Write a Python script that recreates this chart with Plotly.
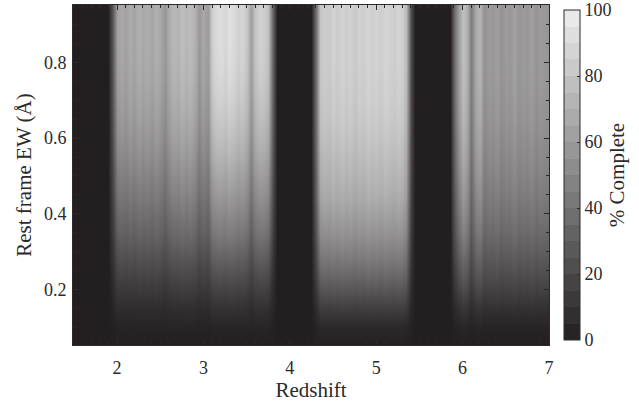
import numpy as np
import plotly.graph_objects as go

# Redshift bin centres (1.50 .. 7.00, step 0.05) and their high-EW completeness (%)
redshift = [round(1.5 + 0.05 * i, 2) for i in range(111)]
col_max = [
    0, 0, 0, 0, 0, 0, 0, 0, 0,            # 1.50-1.90
    30, 62, 66, 63, 68, 64, 70, 66, 69, 65,  # 1.95-2.40
    70, 66, 58, 68, 74, 72, 77, 73, 76, 70,  # 2.45-2.90
    58, 66, 60, 85, 90, 92, 88, 93, 90, 85,  # 2.95-3.40
    88, 80, 62, 80, 86, 84, 78, 30,          # 3.45-3.80
    0, 0, 0, 0, 0, 0, 0, 0, 0,               # 3.85-4.25
    40, 80, 84, 82, 86, 83, 87, 84, 86, 82,  # 4.30-4.75
    86, 84, 88, 85, 87, 84, 88, 86, 84, 87,  # 4.80-5.25
    85, 75, 20,                              # 5.30-5.40
    0, 0, 0, 0, 0, 0, 0, 0, 0,               # 5.45-5.85
    35, 58, 78, 70, 45, 68, 72, 55, 60, 58,  # 5.90-6.35
    62, 56, 60, 58, 63, 57, 60, 58, 62, 56,  # 6.40-6.85
    60, 58, 57,                              # 6.90-7.00
]
assert len(col_max) == len(redshift)

# Rest-frame EW rows and fraction of the column maximum reached (three redshift windows)
ew = [0.05, 0.10, 0.15, 0.20, 0.25, 0.30, 0.35, 0.40, 0.45, 0.50,
      0.55, 0.60, 0.65, 0.70, 0.75, 0.80, 0.85, 0.90, 0.95]
frac_low = [0, 0.03, 0.10, 0.19, 0.29, 0.39, 0.49, 0.57, 0.65, 0.72,
            0.79, 0.85, 0.90, 0.94, 0.97, 0.99, 1, 1, 1]
frac_mid = [0, 0.05, 0.17, 0.31, 0.44, 0.55, 0.65, 0.73, 0.80, 0.85,
            0.89, 0.93, 0.96, 0.98, 0.99, 1, 1, 1, 1]
frac_high = [0, 0.04, 0.14, 0.28, 0.40, 0.51, 0.61, 0.69, 0.76, 0.82,
             0.87, 0.91, 0.95, 0.97, 0.99, 1, 1, 1, 1]

cb_ticks = [0, 20, 40, 60, 80, 100]
x_ticks = [2, 3, 4, 5, 6, 7]
y_ticks = [0.2, 0.4, 0.6, 0.8]

z = np.zeros((len(ew), len(redshift)))
for j, zr in enumerate(redshift):
    prof = frac_low if zr < 4.05 else (frac_mid if zr < 5.65 else frac_high)
    for i in range(len(ew)):
        z[i, j] = col_max[j] * prof[i]

c0 = np.array([35, 31, 32])
c1 = np.array([238, 238, 238])
rgb = lambda c: "rgb(%d,%d,%d)" % tuple(np.round(c).astype(int))

# continuous grey scale for the image
cs_cont = [[0, rgb(c0)], [1, rgb(c1)]]
# discrete 20-step grey scale for the colour bar
nb = 20
cs_disc = []
for k in range(nb):
    col = rgb(c0 + (c1 - c0) * (k + 0.5) / nb)
    cs_disc.append([k / nb, col])
    cs_disc.append([(k + 1) / nb, col])

FONT = "Liberation Serif"
TXT = "#2a2a2a"

fig = go.Figure()
fig.add_trace(go.Heatmap(
    x=redshift, y=ew, z=z, zmin=0, zmax=100, zsmooth="best",
    colorscale=cs_cont, showscale=False, hoverinfo="skip",
))
fig.add_trace(go.Scatter(
    x=[None], y=[None], mode="markers", showlegend=False, hoverinfo="skip",
    marker=dict(
        color=[0, 100], cmin=0, cmax=100, colorscale=cs_disc, showscale=True,
        colorbar=dict(
            x=1.031, xanchor="left", xpad=0, y=0.5, yanchor="middle", ypad=5,
            len=1.0, lenmode="fraction",
            thickness=16, outlinecolor=TXT, outlinewidth=1,
            tickvals=cb_ticks, ticks="inside", ticklen=3, tickcolor=TXT,
            tickfont=dict(family=FONT, size=18, color=TXT),
            title=dict(text="% Complete", side="right", font=dict(family=FONT, size=21, color=TXT)),
        ),
    ),
))

fig.update_layout(
    width=639, height=405,
    margin=dict(l=73, r=90, t=5, b=60, autoexpand=False),
    paper_bgcolor="white", plot_bgcolor="white",
    font=dict(family=FONT, color=TXT),
    xaxis=dict(
        range=[1.49, 7.0], tickvals=x_ticks, ticks="inside", ticklen=5, tickcolor=TXT,
        showline=True, linecolor=TXT, linewidth=1, mirror="allticks", showgrid=False, zeroline=False,
        minor=dict(ticks="inside", ticklen=3, dtick=0.1, tickcolor=TXT, showgrid=False),
        tickfont=dict(family=FONT, size=18, color=TXT), ticklabelstandoff=6,
        title=dict(text="Redshift", font=dict(family=FONT, size=21, color=TXT), standoff=0),
        automargin=False,
    ),
    yaxis=dict(
        range=[0.054, 0.951], tickvals=y_ticks, ticks="inside", ticklen=5, tickcolor=TXT,
        showline=True, linecolor=TXT, linewidth=1, mirror="allticks", showgrid=False, zeroline=False,
        minor=dict(ticks="inside", ticklen=3, dtick=0.05, tickcolor=TXT, showgrid=False),
        tickfont=dict(family=FONT, size=18, color=TXT), ticklabelstandoff=2,
        title=dict(text="Rest frame EW (Å)", font=dict(family=FONT, size=21, color=TXT), standoff=6),
        automargin=False,
    ),
)

fig.write_html("out.html")
